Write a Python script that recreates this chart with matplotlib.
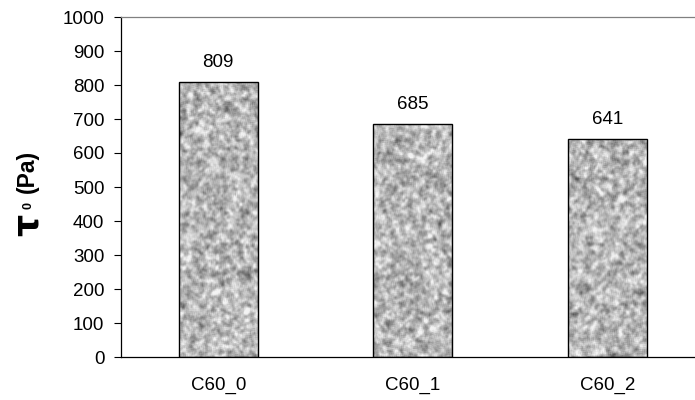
import numpy as np
import matplotlib
matplotlib.use("Agg")
import matplotlib.pyplot as plt
from matplotlib.patches import Rectangle

plt.rcParams['font.family'] = ['Liberation Sans', 'DejaVu Sans']

categories = ["C60_0", "C60_1", "C60_2"]
values = [809, 685, 641]
yticks = [0, 100, 200, 300, 400, 500, 600, 700, 800, 900, 1000]

fig = plt.figure(figsize=(6.95, 4.0), dpi=100)
# axes: left 121px, bottom 357px from top, right extends past figure edge
ax = fig.add_axes([121 / 695, (400 - 357) / 400, 583.5 / 695, 340 / 400])

ax.set_xlim(-0.5, len(categories) - 0.5)
ax.set_ylim(0, 1000)
ax.set_yticks(yticks)
ax.set_xticks(range(len(categories)))
ax.set_xticklabels(categories, fontsize=13.5)
ax.tick_params(axis='x', length=0, pad=14)
ax.tick_params(axis='y', direction='out', length=5, width=0.8, labelsize=13.5, pad=7)
for s in ['left', 'bottom', 'top']:
    ax.spines[s].set_linewidth(0.9)
ax.spines['top'].set_color('#808080')
ax.spines['right'].set_visible(False)


def box_smooth(a, k):
    h, w = a.shape
    pad = np.pad(a, k, mode='wrap')
    out = np.zeros_like(a)
    for dy in range(-k, k + 1):
        for dx in range(-k, k + 1):
            out += pad[k + dy:k + dy + h, k + dx:k + dx + w]
    return out / (2 * k + 1) ** 2


def granite(h, w, seed):
    rng = np.random.default_rng(seed)
    coarse = box_smooth(box_smooth(rng.random((h, w)), 1), 2)
    coarse = (coarse - coarse.mean()) / coarse.std()
    mid = box_smooth(rng.random((h, w)), 1)
    mid = (mid - mid.mean()) / mid.std()
    img = 0.72 + 0.085 * coarse + 0.045 * mid
    return np.clip(img, 0.2, 0.95)


width = 0.405
for i, (cat, v) in enumerate(zip(categories, values)):
    x0 = i - width / 2
    npx = int(v * 0.34)
    tex = granite(npx, 79, seed=i + 3)
    im = ax.imshow(tex, cmap='gray', vmin=0, vmax=1, extent=[x0, x0 + width, 0, v],
                   aspect='auto', interpolation='bilinear', zorder=2)
    rect = Rectangle((x0, 0), width, v, facecolor='none', edgecolor='black',
                     linewidth=1.0, zorder=3)
    ax.add_patch(rect)
    im.set_clip_path(rect)
    ax.annotate(f"{v}", (i, v), xytext=(0, 11), textcoords='offset points',
                ha='center', va='baseline', fontsize=13.5)

ax.set_xlim(-0.5, len(categories) - 0.5)
ax.set_ylim(0, 1000)

# y-axis label: large bold tau with a small zero, then the unit
fig.text(28 / 695, 1 - 225 / 400, "τ", rotation=90, fontsize=25, fontweight='bold',
         ha='center', va='center', family=['DejaVu Sans'])
fig.text(28.5 / 695, 1 - 205.5 / 400, "0", rotation=90, fontsize=9, fontweight='bold',
         ha='center', va='center')
fig.text(27.5 / 695, 1 - 171 / 400, "(Pa)", rotation=90, fontsize=16.5, fontweight='bold',
         ha='center', va='center')

fig.savefig("out.png", dpi=100)
